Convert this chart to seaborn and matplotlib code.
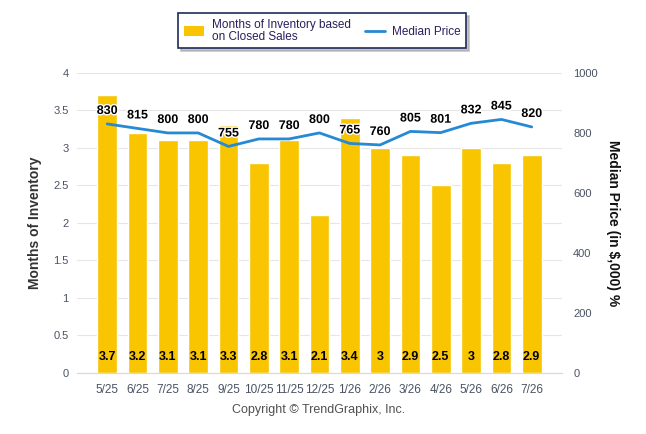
import numpy as np
import pandas as pd
import matplotlib
matplotlib.use("Agg")
import matplotlib.pyplot as plt
import matplotlib.patheffects as pe
import seaborn as sns
from matplotlib.patches import Patch
from matplotlib.lines import Line2D

months = ["5/25", "6/25", "7/25", "8/25", "9/25", "10/25", "11/25", "12/25",
          "1/26", "2/26", "3/26", "4/26", "5/26", "6/26", "7/26"]
inventory = [3.7, 3.2, 3.1, 3.1, 3.3, 2.8, 3.1, 2.1, 3.4, 3.0, 2.9, 2.5, 3.0, 2.8, 2.9]
inventory_labels = ["3.7", "3.2", "3.1", "3.1", "3.3", "2.8", "3.1", "2.1",
                    "3.4", "3", "2.9", "2.5", "3", "2.8", "2.9"]
median_price = [830, 815, 800, 800, 755, 780, 780, 800, 765, 760, 805, 801, 832, 845, 820]

df = pd.DataFrame({"Month": months, "Inventory": inventory, "Price": median_price})
df["pos"] = np.arange(len(df))

sns.set_style("white")
plt.rcParams["font.family"] = ["Liberation Sans", "DejaVu Sans"]

bar_color = "#F8C500"
line_color = "#2589D4"
tick_color = "#4A5262"

fig = plt.figure(figsize=(6.46, 4.34), dpi=100)
ax = fig.add_axes([0.119, 0.1406, 0.751, 0.6914])
ax2 = ax.twinx()

sns.barplot(data=df, x="pos", y="Inventory", color=bar_color, saturation=1,
            width=0.65, native_scale=True, ax=ax, zorder=2)
ax.set_xlim(-1, 15)
ax.set_ylim(0, 4)
ax.set_yticks(np.arange(0, 4.01, 0.5))
ax.set_yticklabels(["0", "0.5", "1", "1.5", "2", "2.5", "3", "3.5", "4"])
ax.set_xticks(df["pos"])
ax.set_xticklabels(months)
ax.grid(axis="y", color="#E6E6E6", linewidth=0.8, zorder=0)
ax.set_axisbelow(True)
ax.set_xlabel("")
ax.set_ylabel("Months of Inventory", fontsize=10, fontweight="bold",
              color="#333333", labelpad=8)
for s in ["top", "right", "left"]:
    ax.spines[s].set_visible(False)
ax.spines["bottom"].set_color("#D8D8D8")
ax.tick_params(axis="x", labelcolor=tick_color, labelsize=8.5, length=4,
               direction="out", color="#D8D8D8", pad=4)
ax.tick_params(axis="y", labelcolor=tick_color, labelsize=8, length=0, pad=6)

for x, lab in zip(df["pos"], inventory_labels):
    ax.annotate(lab, (x, 0), xytext=(0, 7), textcoords="offset points",
                ha="center", va="bottom", fontsize=9, fontweight="bold",
                color="black", zorder=5)

sns.lineplot(data=df, x="pos", y="Price", color=line_color, linewidth=2,
             ax=ax2, zorder=4, legend=False)
ax2.set_ylim(0, 1000)
ax2.set_yticks(np.arange(0, 1001, 200))
ax2.set_xlim(-1, 15)
ax2.set_ylabel("Median Price (in $,000) %", fontsize=10, fontweight="bold",
               color="#111111", rotation=-90, labelpad=16)
for s in ["top", "right", "left", "bottom"]:
    ax2.spines[s].set_visible(False)
ax2.tick_params(axis="y", labelcolor=tick_color, labelsize=8, length=0, pad=8)
ax2.grid(False)

outline = [pe.withStroke(linewidth=2, foreground="white")]
for x, v in zip(df["pos"], median_price):
    ax2.annotate(str(v), (x, v), xytext=(0, 5), textcoords="offset points",
                 ha="center", va="bottom", fontsize=9, fontweight="bold",
                 color="black", path_effects=outline, zorder=6)

# legend
handles = [Patch(facecolor=bar_color, edgecolor="none"),
           Line2D([0], [0], color=line_color, linewidth=2)]
leg = fig.legend(handles, ["Months of Inventory based\non Closed Sales", "Median Price"],
                 loc="center", bbox_to_anchor=(0.499, 0.929), ncol=2,
                 frameon=True, fancybox=False,
                 shadow={"color": "#A0A0A0", "alpha": 0.6}, fontsize=8.5,
                 handlelength=1.7, handleheight=0.9, handletextpad=0.6,
                 columnspacing=1.2, borderpad=0.5, labelspacing=0.2)
leg.get_frame().set_edgecolor("#1E2B5A")
leg.get_frame().set_linewidth(1.2)
for t in leg.get_texts():
    t.set_color("#2A1E5C")
    t.set_linespacing(0.95)

fig.text(0.493, 0.055, "Copyright \u00a9 TrendGraphix, Inc.", ha="center",
         va="center", fontsize=9, color="#505050")

fig.savefig("out.png", dpi=100)
